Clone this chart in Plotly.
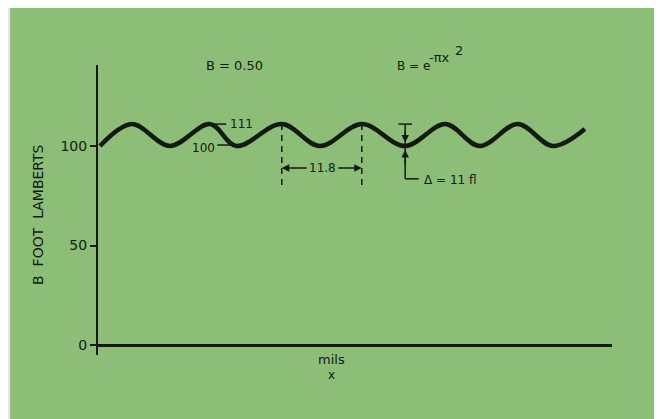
import plotly.graph_objects as go

# wave: x in mils, B in foot lamberts
x_mils = [0.3, 5.0, 10.6, 16.5, 20.4, 27.1, 32.7, 38.9, 45.3, 51.2, 56.3, 61.9, 67.1, 71.8]
b_fl = [100, 111, 100, 111, 100, 111, 100, 111, 100, 111, 100, 111, 100, 108.5]

y_ticks = [0, 50, 100]
y_ticktext = ["0", "50", "100"]

b_max, b_min = 111, 100
period_start, period_end = 27.1, 38.9   # the two dashed lines
delta_x = 45.3                          # trough where delta is marked

INK = "#141a10"
GREEN = "#8cbe77"
BORDER = "#e4e5df"
FONT = "DejaVu Sans"

fig = go.Figure()
fig.add_trace(go.Scatter(
    x=x_mils, y=b_fl,
    mode="lines",
    line=dict(color=INK, width=4.5, shape="spline", smoothing=1),
    hoverinfo="skip",
    showlegend=False,
))

thin = dict(color=INK, width=1.5)
shapes = [
    # green card behind the chart
    dict(type="rect", xref="paper", yref="paper", x0=-0.171, x1=1.0875, y0=-0.3, y1=1.25,
         fillcolor=GREEN, line=dict(width=0), layer="below"),
    # leader lines for the 111 / 100 labels
    dict(type="line", x0=15.8, x1=18.9, y0=b_max, y1=b_max, line=thin),
    dict(type="line", x0=17.6, x1=20.4, y0=100.5, y1=100.5, line=thin),
    # dashed period markers
    dict(type="line", x0=period_start, x1=period_start, y0=b_max, y1=78,
         line=dict(color=INK, width=1.5, dash="6px,5px")),
    dict(type="line", x0=period_end, x1=period_end, y0=b_max, y1=78,
         line=dict(color=INK, width=1.5, dash="6px,5px")),
    # delta marker: cap, leg down and across
    dict(type="line", x0=44.3, x1=46.3, y0=b_max, y1=b_max, line=thin),
    dict(type="line", x0=delta_x, x1=delta_x, y0=b_max, y1=83.5, line=thin),
    dict(type="line", x0=delta_x, x1=47.3, y0=83.5, y1=83.5, line=thin),
]

text_font = dict(family=FONT, size=12, color=INK)


def label(x, y, text, xanchor="center", ref="data", **kw):
    d = dict(x=x, y=y, text=text, showarrow=False, xanchor=xanchor, yanchor="middle",
             font=kw.pop("font", text_font), **kw)
    if ref == "paper":
        d.update(xref="paper", yref="paper")
    return d


def arrow(x, y, ax, ay):
    return dict(x=x, y=y, ax=ax, ay=ay, axref="x", ayref="y", text="", showarrow=True,
                arrowhead=2, arrowsize=1, arrowwidth=1.5, arrowcolor=INK)


annotations = [
    label(0.2665, 0.997, "B = 0.50", ref="paper", font=dict(family=FONT, size=13, color=INK)),
    label(0.578, 0.997, "B = e", xanchor="left", ref="paper"),
    label(0.641, 1.026, "-πx", xanchor="left", ref="paper", font=dict(family=FONT, size=13, color=INK)),
    label(0.69, 1.05, "2", xanchor="left", ref="paper", font=dict(family=FONT, size=13, color=INK)),
    label(19.2, b_max, "111", xanchor="left"),
    label(17.6, 99, "100", xanchor="right"),
    # period dimension
    arrow(period_start, 89, 31.0, 89),
    arrow(period_end, 89, 35.2, 89),
    label(33.1, 89, "11.8"),
    # delta dimension
    arrow(delta_x, 101.8, delta_x, 108),
    arrow(delta_x, 98, delta_x, 90),
    label(47.8, 83, "Δ = 11 fl", xanchor="left"),
    # axis names
    label(-0.117, 0.486, "B\u00a0\u00a0FOOT\u00a0\u00a0LAMBERTS", ref="paper", textangle=-90,
          font=dict(family=FONT, size=14, color=INK)),
    label(0.455, -0.017, "mils", ref="paper", font=dict(family=FONT, size=13, color=INK)),
    label(0.455, -0.069, "x", ref="paper"),
]

fig.update_layout(
    width=662, height=419,
    margin=dict(l=90, r=58, t=57, b=72),
    paper_bgcolor=BORDER,
    plot_bgcolor="rgba(0,0,0,0)",
    shapes=shapes,
    annotations=annotations,
    font=dict(family=FONT, size=13, color=INK),
    xaxis=dict(range=[0, 75.8], showgrid=False, zeroline=False, showline=False,
               showticklabels=False, ticks=""),
    yaxis=dict(range=[-5, 140.7], showgrid=False, tickvals=y_ticks, ticktext=y_ticktext,
               ticks="outside", ticklen=6, tickwidth=1.5, tickcolor=INK,
               showline=True, linewidth=2, linecolor=INK,
               zeroline=True, zerolinewidth=2.5, zerolinecolor=INK,
               tickfont=dict(family=FONT, size=14, color=INK)),
)

fig.write_html("out.html")
